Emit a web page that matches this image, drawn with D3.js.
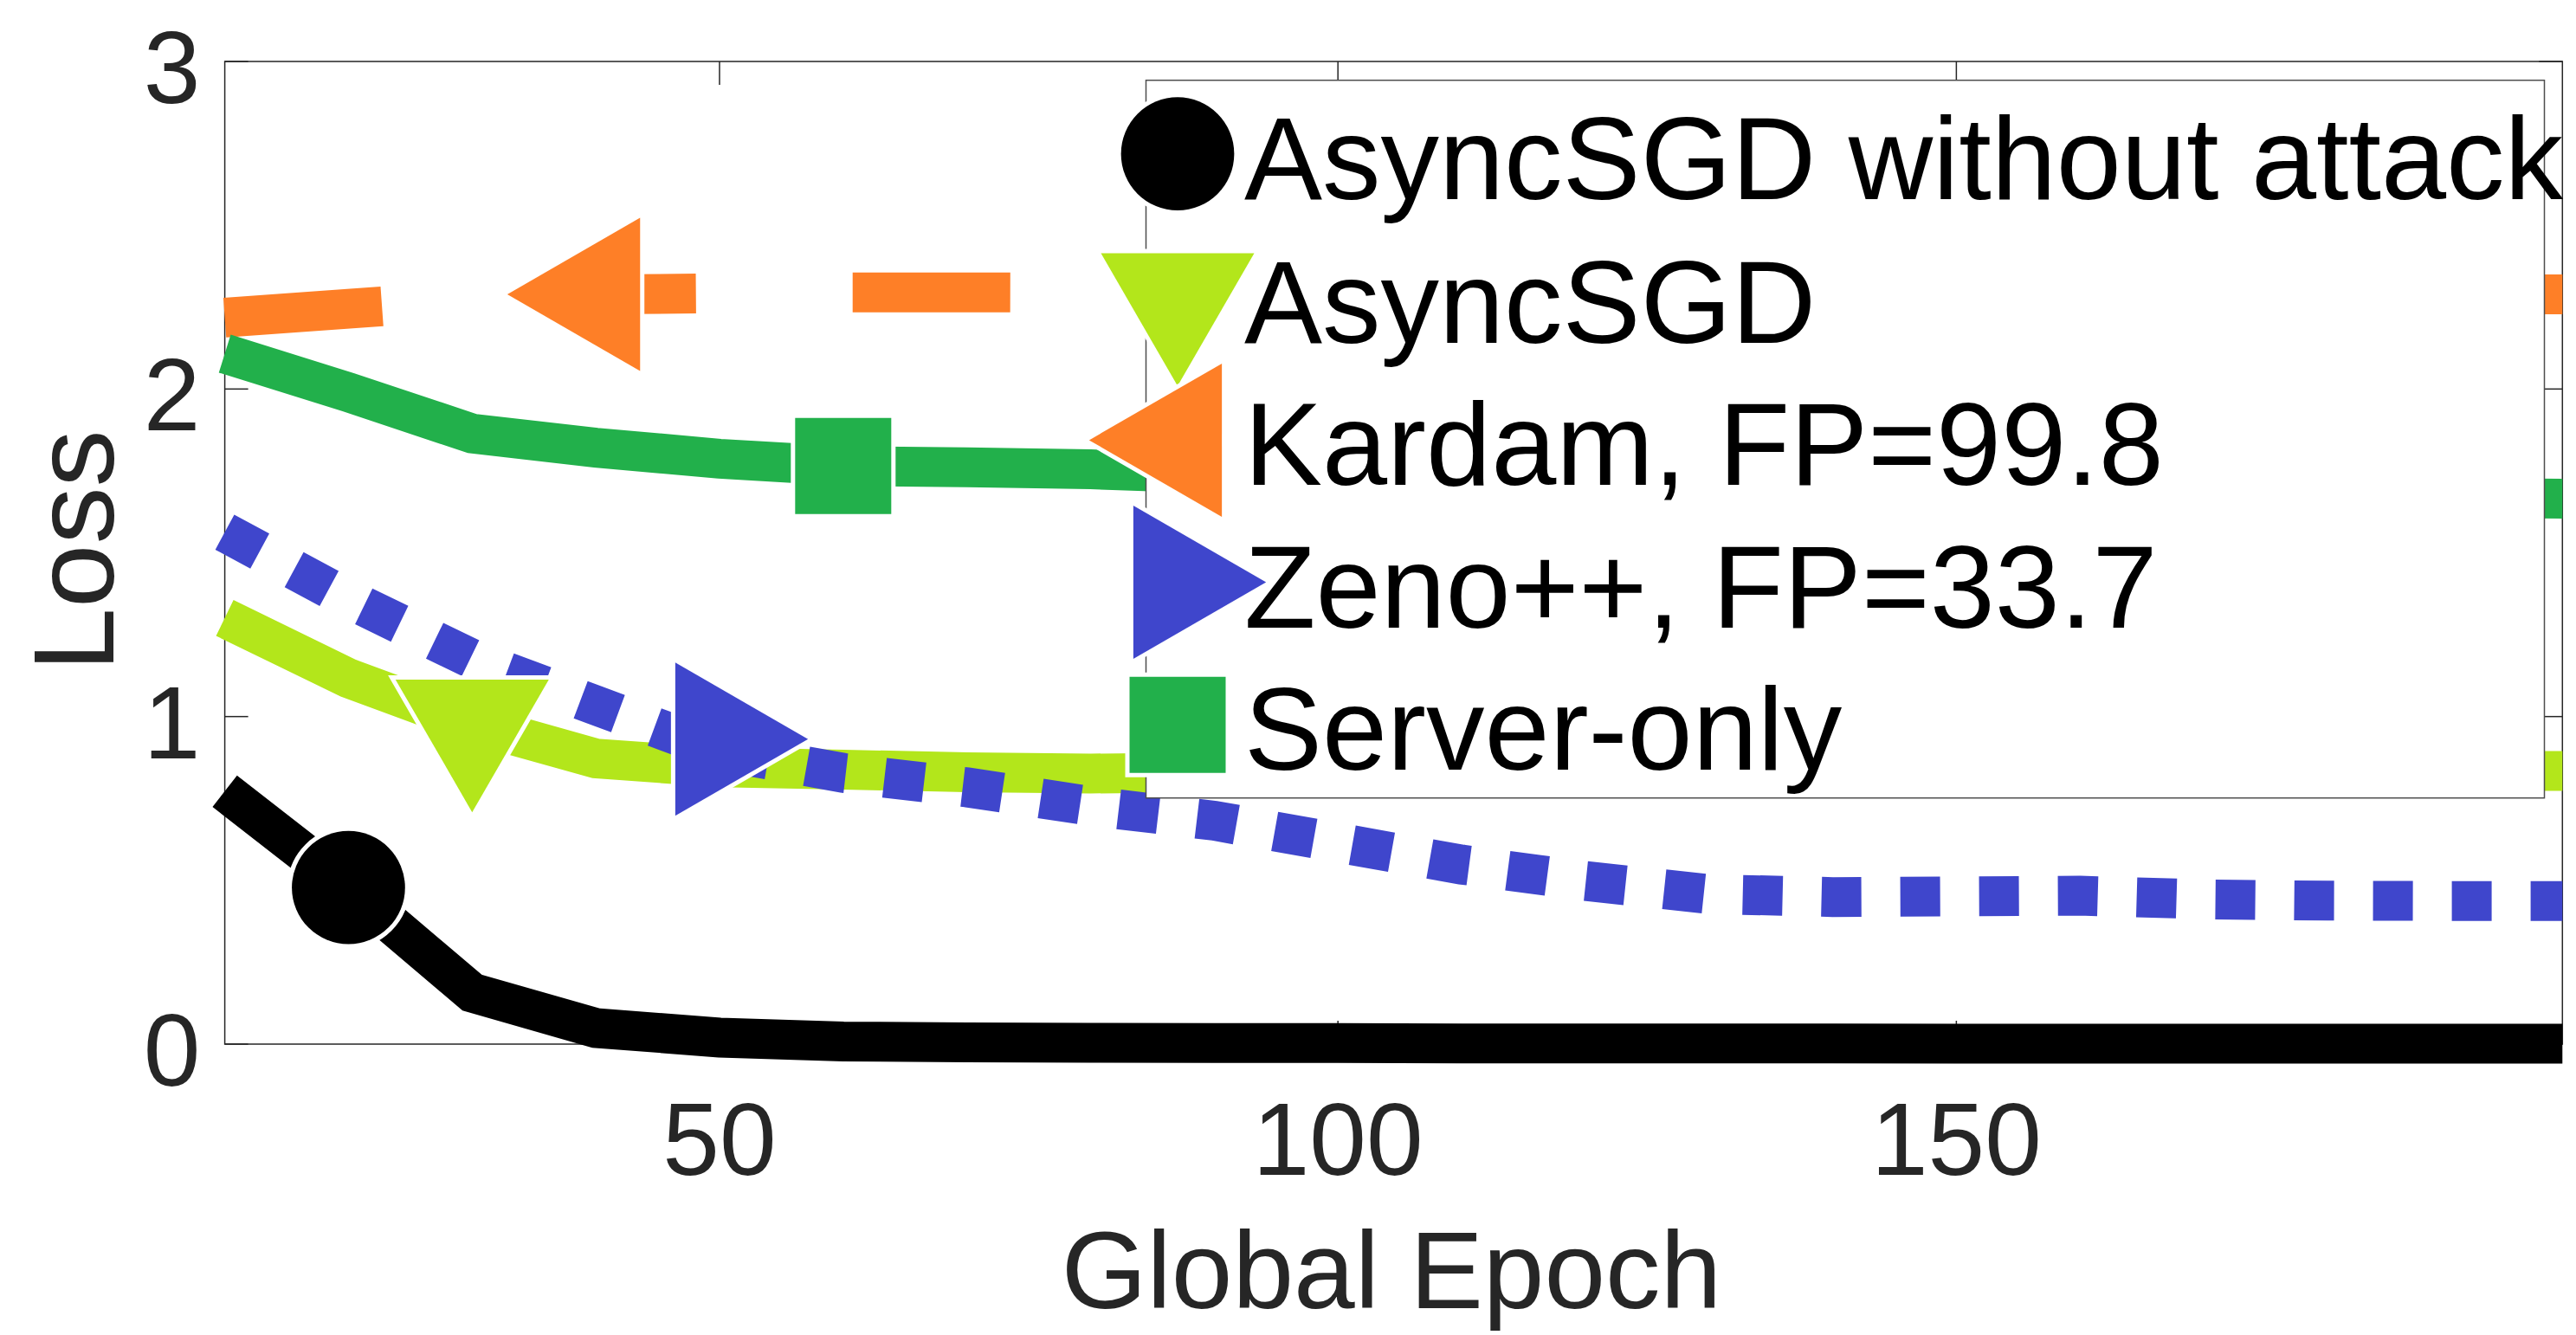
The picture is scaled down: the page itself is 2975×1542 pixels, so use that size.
<!DOCTYPE html>
<html>
<head>
<meta charset="utf-8">
<script src="https://cdn.jsdelivr.net/npm/d3@7"></script>
<style>
  html, body { margin: 0; padding: 0; background: #fff; }
  svg { display: block; }
  text { font-family: "Liberation Sans", Arial, Helvetica, sans-serif; }
</style>
</head>
<body>
<svg id="chart" width="2975" height="1542"></svg>
<script>
// data (loss per global epoch)
const epochs = [10, 20, 30, 40, 50, 60, 70, 80, 90, 100, 110, 120, 130, 140, 150, 160, 170, 180, 190, 200];
const lossNoAttack = [0.772, 0.478, 0.157, 0.049, 0.020, 0.008, 0.005, 0.004, 0.003, 0.003, 0.002, 0.002, 0.002, 0.002, 0.001, 0.001, 0.001, 0.001, 0.001, 0.001];
const lossAsyncSGD = [1.301, 1.117, 0.978, 0.872, 0.845, 0.838, 0.830, 0.826, 0.830, 0.832, 0.831, 0.833, 0.832, 0.834, 0.833, 0.835, 0.834, 0.834, 0.834, 0.834];
const lossKardam = [2.218, 2.245, 2.272, 2.289, 2.292, 2.295, 2.295, 2.294, 2.293, 2.292, 2.291, 2.291, 2.290, 2.290, 2.290, 2.289, 2.289, 2.289, 2.289, 2.289];
const lossZeno = [1.563, 1.359, 1.176, 1.034, 0.895, 0.828, 0.784, 0.727, 0.682, 0.615, 0.548, 0.498, 0.458, 0.449, 0.451, 0.453, 0.442, 0.438, 0.437, 0.437];
const lossServerOnly = [2.108, 1.990, 1.864, 1.821, 1.787, 1.765, 1.761, 1.755, 1.742, 1.730, 1.720, 1.710, 1.700, 1.692, 1.685, 1.680, 1.675, 1.671, 1.668, 1.665];

const seriesNames = ['AsyncSGD without attack', 'AsyncSGD', 'Kardam, FP=99.8', 'Zeno++, FP=33.7', 'Server-only'];
// one marker per curve
const markerEpochs = [20, 30, 40, 50, 60];
const markerLoss = [0.478, 0.978, 2.289, 0.931, 1.765];

const xTicks = [50, 100, 150];
const yTicks = [0, 1, 2, 3];

const colors = ['#000000', '#b3e61b', '#fe7f27', '#3f46cc', '#22b04b'];
const dashes = [null, null, '182 181', '46 45', null];
const symbols = [d3.symbolCircle, d3.symbolTriangle, d3.symbolTriangle, d3.symbolTriangle, d3.symbolSquare];
const symbolSizes = [13417, 13568, 13568, 13568, 12321];
const symbolRot = [0, 180, -90, 90, 0];

const allLoss = [lossNoAttack, lossAsyncSGD, lossKardam, lossZeno, lossServerOnly];

const plotL = 259.6, plotR = 2959.3, plotT = 71, plotB = 1206;
const axisColor = '#262626';

const svg = d3.select('#chart');

const x = d3.scaleLinear().domain([10, 199]).range([plotL, plotR]);
const y = d3.scaleLinear().domain([0, 3]).range([plotB, plotT]);

// axes box + ticks (drawn under the curves)
const axes = svg.append('g');
axes.append('rect')
  .attr('x', plotL).attr('y', plotT)
  .attr('width', plotR - plotL).attr('height', plotB - plotT)
  .attr('fill', 'none').attr('stroke', axisColor).attr('stroke-width', 1.5);

const tickLen = 27;
axes.selectAll('.xt-b').data(xTicks).enter().append('line')
  .attr('x1', d => x(d)).attr('x2', d => x(d))
  .attr('y1', plotB).attr('y2', plotB - tickLen)
  .attr('stroke', axisColor).attr('stroke-width', 1.5);
axes.selectAll('.xt-t').data(xTicks).enter().append('line')
  .attr('x1', d => x(d)).attr('x2', d => x(d))
  .attr('y1', plotT).attr('y2', plotT + tickLen)
  .attr('stroke', axisColor).attr('stroke-width', 1.5);
axes.selectAll('.yt-l').data(yTicks).enter().append('line')
  .attr('x1', plotL).attr('x2', plotL + tickLen)
  .attr('y1', d => y(d)).attr('y2', d => y(d))
  .attr('stroke', axisColor).attr('stroke-width', 1.5);
axes.selectAll('.yt-r').data(yTicks).enter().append('line')
  .attr('x1', plotR).attr('x2', plotR - tickLen)
  .attr('y1', d => y(d)).attr('y2', d => y(d))
  .attr('stroke', axisColor).attr('stroke-width', 1.5);

// tick labels
svg.selectAll('.xl').data(xTicks).enter().append('text')
  .attr('x', d => x(d)).attr('y', 1357)
  .attr('text-anchor', 'middle')
  .attr('font-size', 118).attr('fill', axisColor)
  .text(d => d);
svg.selectAll('.yl').data(yTicks).enter().append('text')
  .attr('x', 231.5).attr('y', d => y(d) + 48)
  .attr('text-anchor', 'end')
  .attr('font-size', 118).attr('fill', axisColor)
  .text(d => d);

svg.append('text')
  .attr('x', 1607).attr('y', 1511)
  .attr('text-anchor', 'middle')
  .attr('font-size', 127).attr('fill', axisColor)
  .text('Global Epoch');
svg.append('text')
  .attr('transform', 'translate(131,636) rotate(-90)')
  .attr('text-anchor', 'middle')
  .attr('font-size', 132).attr('fill', axisColor)
  .text('Loss');

// curves
svg.append('clipPath').attr('id', 'plotclip')
  .append('rect').attr('x', 0).attr('y', 0).attr('width', plotR).attr('height', 1542);

const line = d3.line()
  .x((d, i) => x(epochs[i]))
  .y(d => y(d));

const curves = svg.append('g').attr('clip-path', 'url(#plotclip)');
allLoss.forEach((vals, k) => {
  curves.append('path')
    .attr('d', line(vals))
    .attr('fill', 'none')
    .attr('stroke', colors[k])
    .attr('stroke-width', 46)
    .attr('stroke-linecap', 'butt')
    .attr('stroke-linejoin', 'miter')
    .attr('stroke-dasharray', dashes[k]);
});

function drawMarker(g, k, cx, cy) {
  g.append('path')
    .attr('d', d3.symbol().type(symbols[k]).size(symbolSizes[k])())
    .attr('transform', 'translate(' + cx + ',' + cy + ') rotate(' + symbolRot[k] + ')')
    .attr('fill', colors[k])
    .attr('stroke', '#fff')
    .attr('stroke-width', 10)
    .attr('paint-order', 'stroke');
}

const marks = svg.append('g');
markerEpochs.forEach((e, k) => drawMarker(marks, k, x(e), y(markerLoss[k])));

// legend
const legend = svg.append('g');
legend.append('rect')
  .attr('x', 1323.5).attr('y', 92.7)
  .attr('width', 1615).attr('height', 829)
  .attr('fill', '#fff').attr('stroke', '#4d4d4d').attr('stroke-width', 1.5);

const rowY = [177.7, 343.5, 508.4, 672.5, 837.2];
seriesNames.forEach((name, k) => {
  drawMarker(legend, k, 1360, rowY[k]);
  legend.append('text')
    .attr('x', 1437).attr('y', rowY[k] + 52)
    .attr('font-size', 135).attr('fill', '#000')
    .text(name);
});
</script>
</body>
</html>
